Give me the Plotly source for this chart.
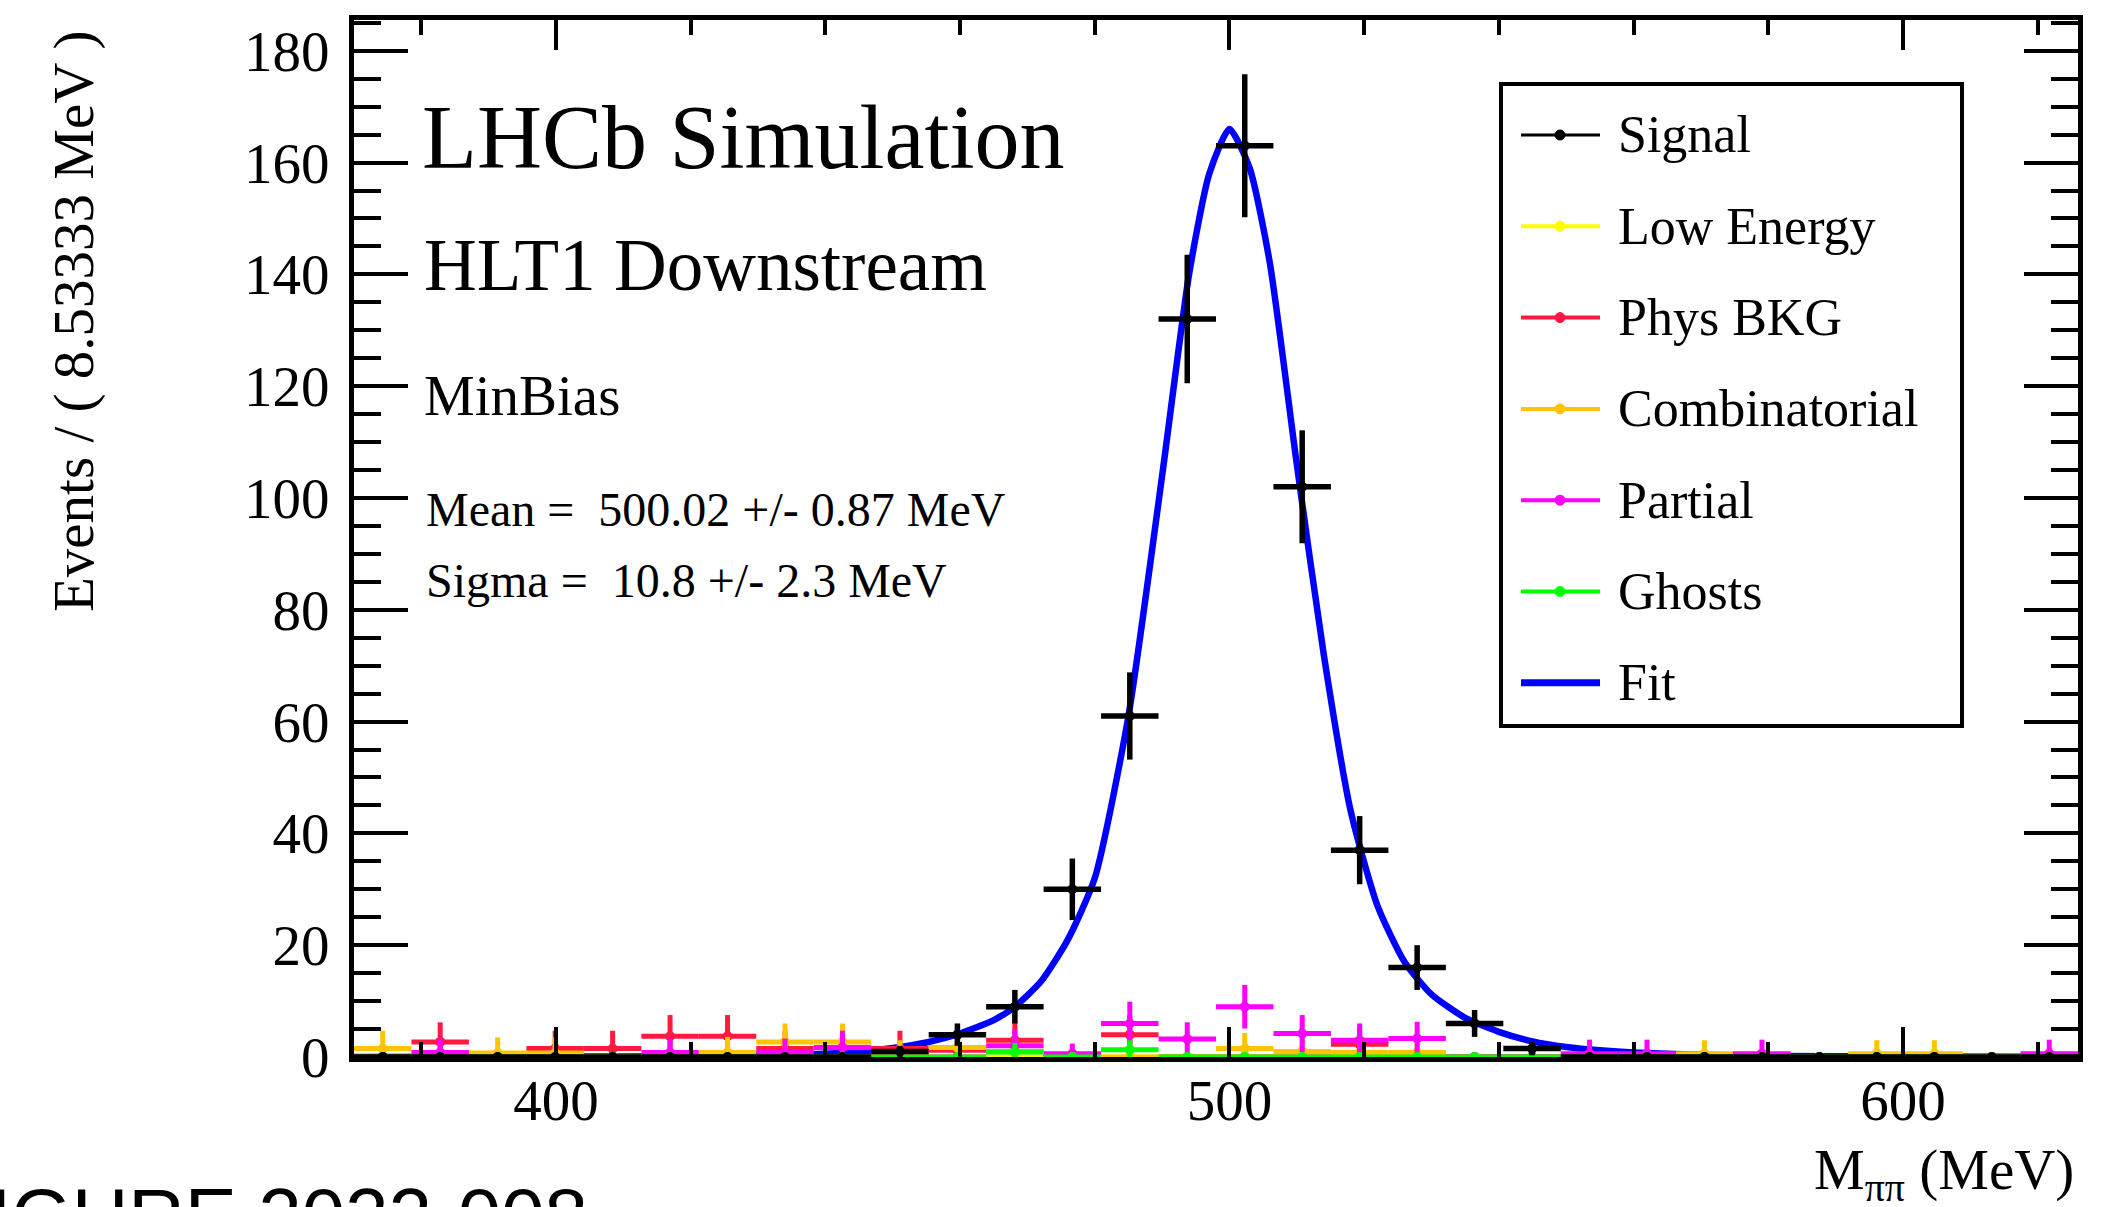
import plotly.graph_objects as go

# ---------------- data ----------------
BIN_WIDTH = 8.53333
BIN_CENTERS = [374.267, 382.800, 391.333, 399.867, 408.400, 416.933, 425.467, 434.000,
               442.533, 451.067, 459.600, 468.133, 476.667, 485.200, 493.733, 502.267,
               510.800, 519.333, 527.867, 536.400, 544.933, 553.467, 562.000, 570.533,
               579.067, 587.600, 596.133, 604.667, 613.200, 621.733]

SIGNAL = [0, 0, 0, 0, 0, 0, 0, 0, 0, 1, 4, 9, 30, 61, 132, 163, 102, 37, 16, 6,
          1.5, 0, 0, 0, 0, 0, 0, 0, 0, 0]
SIGNAL_ERR = [0, 0, 0, 0, 0, 0, 0, 0, 0, 1.0, 2.0, 3.0, 5.5, 7.8, 11.5, 12.8, 10.1, 6.1, 4.0, 2.4,
              1.2, 0, 0, 0, 0, 0, 0, 0, 0, 0]

LOW_ENERGY = [0] * 30
LOW_ENERGY_ERR = [0] * 30

PHYS_BKG = [0, 2.7, 0, 1.5, 1.5, 3.7, 3.7, 1.5, 0, 1.5, 1.2, 3.0, 0, 4.0, 0, 0,
            0, 2.3, 0, 0, 0, 0, 0, 0, 0, 0, 0, 0, 0, 0]
PHYS_BKG_ERR = [0, 3.5, 0, 3.2, 3.2, 3.8, 3.8, 3.2, 0, 3.2, 2.8, 3.5, 0, 3.5, 0, 0,
                0, 3.0, 0, 0, 0, 0, 0, 0, 0, 0, 0, 0, 0, 0]

COMBINATORIAL = [1.5, 0, 0.7, 0.7, 0, 0, 0.8, 2.7, 2.7, 0.5, 1.7, 1.0, 0, 0, 0, 1.5,
                 1.0, 0.8, 0.8, 0, 0, 0, 0, 0.6, 0, 0, 0.6, 0.6, 0, 0]
COMBINATORIAL_ERR = [3.2, 0, 2.8, 2.8, 0, 0, 2.8, 3.3, 3.3, 2.5, 3.0, 2.5, 0, 0, 0, 2.8,
                     2.3, 2.3, 2.3, 0, 0, 0, 0, 2.4, 0, 0, 2.4, 2.4, 0, 0]

PARTIAL = [0, 0.8, 0, 0, 0, 0.8, 0, 0.8, 1.7, 0, 0, 2.0, 0.6, 6.0, 3.2, 9.0,
           4.2, 3.0, 3.3, 0, 0, 0.6, 0.6, 0, 0.6, 0, 0, 0, 0, 0.6]
PARTIAL_ERR = [0, 2.5, 0, 0, 0, 2.5, 0, 2.5, 3.0, 0, 0, 3.0, 1.8, 3.9, 3.0, 3.9,
               3.3, 3.0, 3.0, 0, 0, 2.5, 2.5, 0, 2.5, 0, 0, 0, 0, 2.5]

GHOSTS = [0, 0, 0, 0, 0, 0, 0, 0, 0, 0, 0, 0.9, 0, 1.3, 0, 0,
          0, 0, 0, 0, 0, 0, 0, 0, 0, 0, 0, 0, 0, 0]
GHOSTS_ERR = [0, 0, 0, 0, 0, 0, 0, 0, 0, 0, 0, 1.6, 0, 1.7, 0, 0,
              0, 0, 0, 0, 0, 0, 0, 0, 0, 0, 0, 0, 0, 0]

FIT_X = [370, 400, 420, 430, 440, 445, 450, 455, 460, 465, 468.13, 472, 476, 480, 485,
         490, 494, 497, 500, 503, 506, 510, 514, 518, 522, 526, 530, 535, 540, 545,
         550, 555, 562, 570, 580, 600, 626]
FIT_Y = [0.02, 0.08, 0.15, 0.25, 0.6, 0.95, 1.6, 2.6, 4.2, 6.6, 9.0, 13.5, 21, 32, 61,
         104, 140, 158, 166, 159, 142, 106, 72, 44, 27, 17, 11.2, 7.0, 4.5, 2.8,
         1.8, 1.2, 0.7, 0.4, 0.2, 0.07, 0.02]

X_TICKS = [400, 500, 600]
Y_TICKS = [0, 20, 40, 60, 80, 100, 120, 140, 160, 180]

LEGEND_LABELS = ["Signal", "Low Energy", "Phys BKG", "Combinatorial", "Partial", "Ghosts", "Fit"]

# ---------------- styling ----------------
C_SIGNAL, C_LOW, C_PHYS, C_COMB, C_PART, C_GHOST, C_FIT = (
    "#000000", "#ffff00", "#ff1a40", "#ffc400", "#ff00ff", "#00ff00", "#0000ff")
LEGEND_COLORS = [C_SIGNAL, C_LOW, C_PHYS, C_COMB, C_PART, C_GHOST, C_FIT]
SERIF = "Liberation Serif"

W, H = 2120, 1207
L, R, T, B = 354, 2078, 20, 1057


def px(x):
    return (x - L) / (R - L)


def py(y):
    return (B - y) / (B - T)


fig = go.Figure()

fig.add_trace(go.Scatter(
    x=FIT_X, y=FIT_Y, mode="lines",
    line=dict(color=C_FIT, width=6.5, shape="spline", smoothing=0.6),
    showlegend=False, hoverinfo="skip"))

series = [
    (LOW_ENERGY, LOW_ENERGY_ERR, C_LOW, 5),
    (PHYS_BKG, PHYS_BKG_ERR, C_PHYS, 5),
    (COMBINATORIAL, COMBINATORIAL_ERR, C_COMB, 5),
    (PARTIAL, PARTIAL_ERR, C_PART, 5),
    (GHOSTS, GHOSTS_ERR, C_GHOST, 5),
    (SIGNAL, SIGNAL_ERR, C_SIGNAL, 5.5),
]
for vals, errs, col, th in series:
    fig.add_trace(go.Scatter(
        x=BIN_CENTERS, y=vals, mode="markers",
        marker=dict(color=col, size=10),
        error_x=dict(type="constant", value=BIN_WIDTH / 2, color=col, thickness=th, width=0),
        error_y=dict(type="data", array=errs, color=col, thickness=th, width=0),
        cliponaxis=False, showlegend=False))

axis_common = dict(showline=True, linewidth=5, linecolor="black", mirror="allticks",
                   ticks="inside", tickwidth=4, tickcolor="black", showgrid=False,
                   zeroline=False, tickfont=dict(family=SERIF, size=57, color="black"))

fig.update_xaxes(range=[370, 626], tickmode="array", tickvals=X_TICKS,
                 ticktext=[str(v) for v in X_TICKS], ticklen=30, ticklabelstandoff=-10,
                 minor=dict(dtick=20, tick0=0, ticks="inside", ticklen=15, tickwidth=4,
                            tickcolor="black"),
                 **axis_common)
fig.update_yaxes(range=[0, 185.5], tickmode="array", tickvals=Y_TICKS,
                 ticktext=[str(v) for v in Y_TICKS], ticklen=54, ticklabelstandoff=8,
                 minor=dict(dtick=5, tick0=0, ticks="inside", ticklen=27, tickwidth=4,
                            tickcolor="black"),
                 **axis_common)

ann = []


def text(x, y, s, size, xanchor="left", yanchor="middle", family=SERIF, angle=0):
    ann.append(dict(x=px(x), y=py(y), xref="paper", yref="paper", text=s, showarrow=False,
                    xanchor=xanchor, yanchor=yanchor, textangle=angle,
                    font=dict(family=family, size=size, color="black")))


text(420, 138, "LHCb Simulation", 90)
text(422, 265, "HLT1 Downstream", 73)
text(422, 395, "MinBias", 57)
text(424, 510, "Mean =\u00a0 500.02 +/- 0.87 MeV", 48)
text(424, 580, "Sigma =\u00a0 10.8 +/- 2.3 MeV", 48)
text(74, 321, "Events / ( 8.53333 MeV )", 57, xanchor="center", angle=-90)
text(2076, 1174, "M<sub>ππ</sub> (MeV)", 57, xanchor="right")
text(590, 1170, "FIGURE 2022-008", 78, xanchor="right", yanchor="top", family="Liberation Sans")

# legend box built from shapes and annotations
shapes = [dict(type="rect", xref="paper", yref="paper", x0=px(1501), x1=px(1962),
               y0=py(726), y1=py(84), line=dict(color="black", width=4),
               fillcolor="white", layer="above")]
for i, (lab, col) in enumerate(zip(LEGEND_LABELS, LEGEND_COLORS)):
    yc = 135 + i * 91.3
    lw = 7 if lab == "Fit" else (3 if lab == "Signal" else 4)
    shapes.append(dict(type="line", xref="paper", yref="paper", x0=px(1521), x1=px(1600),
                       y0=py(yc), y1=py(yc), line=dict(color=col, width=lw), layer="above"))
    if lab != "Fit":
        r = 5
        shapes.append(dict(type="circle", xref="paper", yref="paper",
                           x0=px(1560 - r), x1=px(1560 + r), y0=py(yc + r), y1=py(yc - r),
                           fillcolor=col, line=dict(color=col, width=1), layer="above"))
    text(1616, yc, lab, 52)

fig.update_layout(width=W, height=H, margin=dict(l=L, r=W - R, t=T, b=H - B, pad=0),
                  paper_bgcolor="white", plot_bgcolor="white", showlegend=False,
                  annotations=ann, shapes=shapes)

fig.write_html("out.html")
